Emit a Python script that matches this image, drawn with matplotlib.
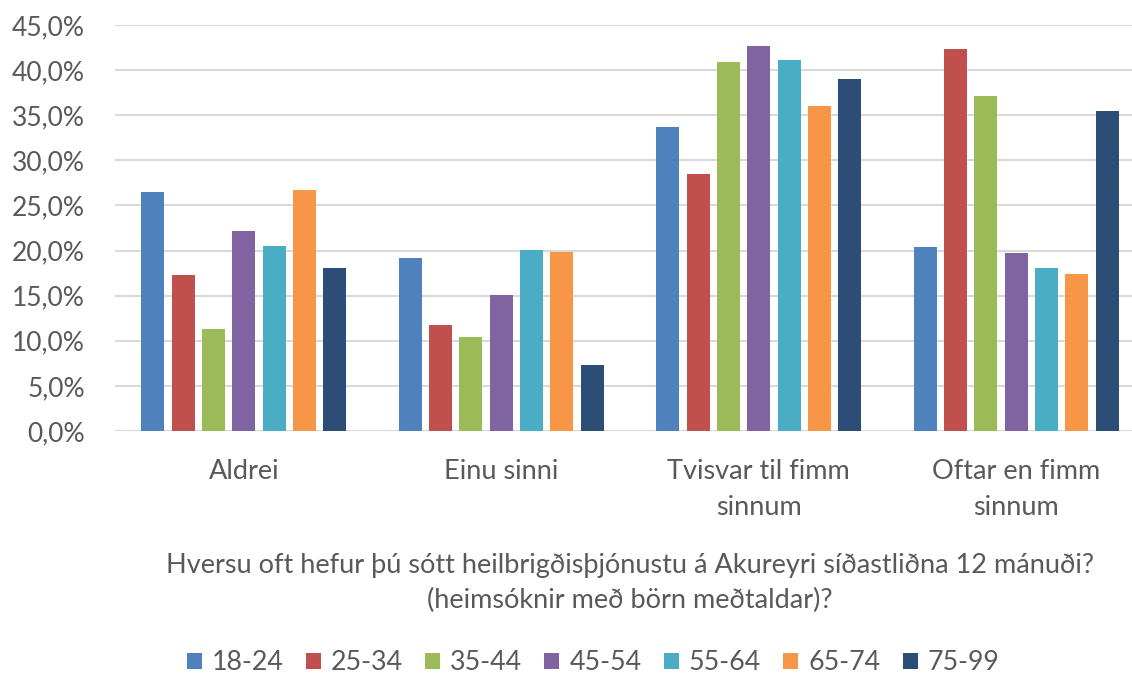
import numpy as np
import matplotlib.pyplot as plt
from matplotlib.ticker import FuncFormatter

# survey answers (x axis categories)
categories = ["Aldrei", "Einu sinni", "Tvisvar til fimm\nsinnum", "Oftar en fimm\nsinnum"]

# share of each age group per answer, in percent
age_groups = ["18-24", "25-34", "35-44", "45-54", "55-64", "65-74", "75-99"]
pct_18_24 = [26.5, 19.2, 33.7, 20.4]
pct_25_34 = [17.3, 11.8, 28.5, 42.3]
pct_35_44 = [11.3, 10.4, 40.9, 37.1]
pct_45_54 = [22.2, 15.1, 42.7, 19.7]
pct_55_64 = [20.5, 20.1, 41.1, 18.1]
pct_65_74 = [26.7, 19.8, 36.0, 17.4]
pct_75_99 = [18.1, 7.3, 39.0, 35.5]

colors = ["#4F81BD", "#C0504D", "#9BBB59", "#8064A2", "#4BACC6", "#F79646", "#2C4D75"]

xlabel_text = ("Hversu oft hefur þú sótt heilbrigðisþjónustu á Akureyri síðastliðna 12 mánuði?\n"
               "(heimsóknir með börn meðtaldar)?")

text_color = "#595959"
plt.rcParams["font.family"] = ["Lato", "DejaVu Sans"]

fig = plt.figure(figsize=(11.32, 6.74), dpi=100)
ax = fig.add_axes([115 / 1132, 243 / 674, 1030 / 1132, 406 / 674])

series = [pct_18_24, pct_25_34, pct_35_44, pct_45_54, pct_55_64, pct_65_74, pct_75_99]
x = np.arange(len(categories))
slot = 0.1178
width = 0.0893
for i, (vals, label, color) in enumerate(zip(series, age_groups, colors)):
    ax.bar(x + (i - 3) * slot, vals, width=width, color=color, label=label, zorder=2)

ax.set_xlim(-0.5, 3.5)
ax.set_ylim(0, 45)
ax.set_yticks(np.arange(0, 46, 5))
ax.yaxis.set_major_formatter(FuncFormatter(lambda v, _: f"{v:.1f}".replace(".", ",") + "%"))
ax.grid(axis="y", color="#d9d9d9", linewidth=1.5, zorder=0)
ax.set_axisbelow(True)

ax.set_xticks(x)
ax.set_xticklabels(categories, linespacing=1.58)
ax.tick_params(axis="both", length=0, colors=text_color)
ax.tick_params(axis="x", pad=20, labelsize=19.5)
ax.tick_params(axis="y", pad=21.5, labelsize=19)

for spine in ax.spines.values():
    spine.set_visible(False)

fig.text(630 / 1132, 1 - 583 / 674, xlabel_text, ha="center", va="center",
         fontsize=19.5, color=text_color, linespacing=1.5)

fig.legend(loc="center", bbox_to_anchor=(593 / 1132, 1 - 663 / 674), ncol=7,
           frameon=False, fontsize=19.3, labelcolor=text_color,
           handlelength=0.56, handleheight=0.56, handletextpad=0.37, columnspacing=0.83)

fig.savefig("out.png", dpi=100)
